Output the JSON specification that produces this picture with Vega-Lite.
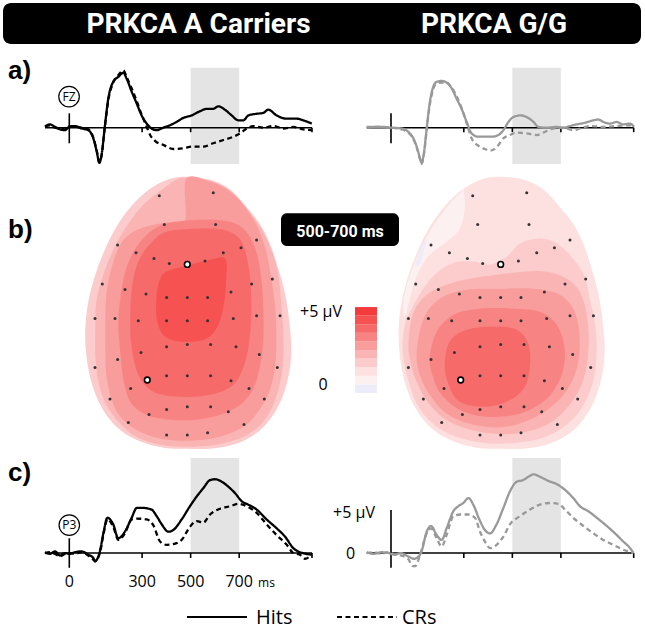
{
"$schema":"https://vega.github.io/schema/vega-lite/v6.json",
"padding":0,"spacing":0,"bounds":"full","background":"white",
"config":{"view":{"stroke":null},"font":"Open Sans"},
"datasets":{
"notes":[{"note":"PRKCA A Carriers"},{"note":"PRKCA G/G"},{"note":"a)"},{"note":"b)"},{"note":"c)"},{"note":"FZ"},{"note":"P3"},{"note":"500-700 ms"},{"note":"+5 µV"},{"note":"0"},{"note":"ms"},{"note":"Hits"},{"note":"CRs"}],
"boxes":[{"r":"a","ms":500,"ms2":700,"uv":-4.43,"uv2":7.32},{"r":"c","ms":500,"ms2":700,"uv":0,"uv2":11.6}],
"ticks":[{"ms":0},{"ms":300},{"ms":500},{"ms":700}],
"guides":[
{"g":"A","r":"a","ms":-100,"ms2":1000,"uv":0,"uv2":0},{"g":"A","r":"a","ms":0,"ms2":0,"uv":-1.9,"uv2":1.75},{"g":"A","r":"a","ms":300,"ms2":300,"uv":0,"uv2":-0.55},{"g":"A","r":"a","ms":500,"ms2":500,"uv":0,"uv2":-0.55},{"g":"A","r":"a","ms":700,"ms2":700,"uv":0,"uv2":-0.55},{"g":"A","r":"a","ms":1000,"ms2":1000,"uv":0,"uv2":-0.55},
{"g":"G","r":"a","ms":-100,"ms2":1000,"uv":0,"uv2":0},{"g":"G","r":"a","ms":0,"ms2":0,"uv":-1.9,"uv2":1.75},{"g":"G","r":"a","ms":300,"ms2":300,"uv":0,"uv2":-0.55},{"g":"G","r":"a","ms":500,"ms2":500,"uv":0,"uv2":-0.55},{"g":"G","r":"a","ms":700,"ms2":700,"uv":0,"uv2":-0.55},{"g":"G","r":"a","ms":1000,"ms2":1000,"uv":0,"uv2":-0.55},
{"g":"A","r":"c","ms":-100,"ms2":1000,"uv":0,"uv2":0},{"g":"A","r":"c","ms":0,"ms2":0,"uv":-1.8,"uv2":1.8},{"g":"A","r":"c","ms":300,"ms2":300,"uv":0,"uv2":-0.6},{"g":"A","r":"c","ms":500,"ms2":500,"uv":0,"uv2":-0.6},{"g":"A","r":"c","ms":700,"ms2":700,"uv":0,"uv2":-0.6},{"g":"A","r":"c","ms":1000,"ms2":1000,"uv":0,"uv2":-0.6},
{"g":"G","r":"c","ms":-100,"ms2":1000,"uv":0,"uv2":0},{"g":"G","r":"c","ms":0,"ms2":0,"uv":-1.8,"uv2":5.25},{"g":"G","r":"c","ms":300,"ms2":300,"uv":0,"uv2":-0.6},{"g":"G","r":"c","ms":500,"ms2":500,"uv":0,"uv2":-0.6},{"g":"G","r":"c","ms":700,"ms2":700,"uv":0,"uv2":-0.6},{"g":"G","r":"c","ms":1000,"ms2":1000,"uv":0,"uv2":-0.6}
],
"swatches":[{"level":1,"lo":0,"hi":0.5},{"level":2,"lo":0.5,"hi":1},{"level":3,"lo":1,"hi":1.5},{"level":4,"lo":1.5,"hi":2},{"level":5,"lo":2,"hi":2.5},{"level":6,"lo":2.5,"hi":3},{"level":7,"lo":3,"hi":3.5},{"level":8,"lo":3.5,"hi":4},{"level":9,"lo":4,"hi":4.5},{"level":10,"lo":4.5,"hi":5}],
"electrodes":[
{"u":-28,"v":125,"ref":false},{"u":26,"v":128,"ref":false},{"u":-23,"v":96.3,"ref":false},{"u":28.3,"v":96.3,"ref":false},
{"u":-69.7,"v":75.7,"ref":false},{"u":-51.3,"v":68,"ref":false},{"u":-33.3,"v":62.3,"ref":false},{"u":-18,"v":57.3,"ref":false},{"u":0,"v":56.3,"ref":true},{"u":17.7,"v":59.7,"ref":false},{"u":36,"v":68,"ref":false},{"u":53.7,"v":73,"ref":false},{"u":69.3,"v":80.7,"ref":false},
{"u":-85,"v":36.7,"ref":false},{"u":-62.3,"v":31.3,"ref":false},{"u":-41.3,"v":26.7,"ref":false},{"u":-20.7,"v":23.3,"ref":false},{"u":0,"v":23.3,"ref":false},{"u":20.3,"v":23.3,"ref":false},{"u":43.7,"v":28.7,"ref":false},{"u":64.3,"v":36.7,"ref":false},{"u":85,"v":41.7,"ref":false},
{"u":-92.3,"v":2.3,"ref":false},{"u":-72.3,"v":2.3,"ref":false},{"u":-49,"v":0,"ref":false},{"u":-20.7,"v":0,"ref":false},{"u":0,"v":0,"ref":false},{"u":20.3,"v":0,"ref":false},{"u":46,"v":2.3,"ref":false},{"u":69.3,"v":5,"ref":false},{"u":92.7,"v":5,"ref":false},
{"u":-46.3,"v":-31.7,"ref":false},{"u":-20.7,"v":-26,"ref":false},{"u":0,"v":-23.7,"ref":false},{"u":23.3,"v":-23.7,"ref":false},{"u":48.7,"v":-26,"ref":false},{"u":72,"v":-33.7,"ref":false},
{"u":-69.7,"v":-38.7,"ref":false},{"u":-92.3,"v":-46.7,"ref":false},{"u":-40,"v":-59.3,"ref":true},{"u":-20.7,"v":-55,"ref":false},{"u":0,"v":-55,"ref":false},{"u":23.3,"v":-55,"ref":false},{"u":43.7,"v":-60,"ref":false},{"u":90,"v":-46.7,"ref":false},
{"u":-56.7,"v":-67.7,"ref":false},{"u":-77.3,"v":-78.3,"ref":false},{"u":61.7,"v":-67.7,"ref":false},{"u":77,"v":-78.3,"ref":false},
{"u":-38.3,"v":-93.7,"ref":false},{"u":-20.7,"v":-88.7,"ref":false},{"u":0,"v":-86,"ref":false},{"u":23.3,"v":-86,"ref":false},{"u":41,"v":-91,"ref":false},{"u":-59,"v":-101.7,"ref":false},{"u":56.7,"v":-103.7,"ref":false},
{"u":-20.7,"v":-114.3,"ref":false},{"u":0,"v":-114.3,"ref":false},{"u":20.3,"v":-112,"ref":false}
],
"topo":[
{"map":"L","poly":"LO","level":4,"i":0,"u":0,"v":144},{"map":"L","poly":"LO","level":4,"i":1,"u":23,"v":141},{"map":"L","poly":"LO","level":4,"i":2,"u":43,"v":131},{"map":"L","poly":"LO","level":4,"i":3,"u":59,"v":114},{"map":"L","poly":"LO","level":4,"i":4,"u":73,"v":96},{"map":"L","poly":"LO","level":4,"i":5,"u":83,"v":76},{"map":"L","poly":"LO","level":4,"i":6,"u":91,"v":52},{"map":"L","poly":"LO","level":4,"i":7,"u":98,"v":26},{"map":"L","poly":"LO","level":4,"i":8,"u":102,"v":-1},{"map":"L","poly":"LO","level":4,"i":9,"u":104,"v":-28},{"map":"L","poly":"LO","level":4,"i":10,"u":102,"v":-51},{"map":"L","poly":"LO","level":4,"i":11,"u":96,"v":-74},{"map":"L","poly":"LO","level":4,"i":12,"u":86,"v":-94},{"map":"L","poly":"LO","level":4,"i":13,"u":71,"v":-111},{"map":"L","poly":"LO","level":4,"i":14,"u":49,"v":-123},{"map":"L","poly":"LO","level":4,"i":15,"u":23,"v":-128},{"map":"L","poly":"LO","level":4,"i":16,"u":0,"v":-128},{"map":"L","poly":"LO","level":4,"i":17,"u":-24,"v":-127},{"map":"L","poly":"LO","level":4,"i":18,"u":-51,"v":-119},{"map":"L","poly":"LO","level":4,"i":19,"u":-71,"v":-106},{"map":"L","poly":"LO","level":4,"i":20,"u":-86,"v":-86},{"map":"L","poly":"LO","level":4,"i":21,"u":-96,"v":-61},{"map":"L","poly":"LO","level":4,"i":22,"u":-101,"v":-34},{"map":"L","poly":"LO","level":4,"i":23,"u":-102,"v":-8},{"map":"L","poly":"LO","level":4,"i":24,"u":-99,"v":19},{"map":"L","poly":"LO","level":4,"i":25,"u":-92,"v":46},{"map":"L","poly":"LO","level":4,"i":26,"u":-82,"v":72},{"map":"L","poly":"LO","level":4,"i":27,"u":-69,"v":97},{"map":"L","poly":"LO","level":4,"i":28,"u":-52,"v":119},{"map":"L","poly":"LO","level":4,"i":29,"u":-34,"v":134},{"map":"L","poly":"LO","level":4,"i":30,"u":-17,"v":142},
{"map":"L","poly":"L5","level":5,"i":0,"u":-1,"v":143},{"map":"L","poly":"L5","level":5,"i":1,"u":23,"v":140},{"map":"L","poly":"L5","level":5,"i":2,"u":43,"v":130},{"map":"L","poly":"L5","level":5,"i":3,"u":59,"v":113},{"map":"L","poly":"L5","level":5,"i":4,"u":74,"v":92},{"map":"L","poly":"L5","level":5,"i":5,"u":84,"v":71},{"map":"L","poly":"L5","level":5,"i":6,"u":91,"v":46},{"map":"L","poly":"L5","level":5,"i":7,"u":94,"v":16},{"map":"L","poly":"L5","level":5,"i":8,"u":96,"v":-11},{"map":"L","poly":"L5","level":5,"i":9,"u":96,"v":-38},{"map":"L","poly":"L5","level":5,"i":10,"u":93,"v":-61},{"map":"L","poly":"L5","level":5,"i":11,"u":86,"v":-84},{"map":"L","poly":"L5","level":5,"i":12,"u":74,"v":-103},{"map":"L","poly":"L5","level":5,"i":13,"u":56,"v":-116},{"map":"L","poly":"L5","level":5,"i":14,"u":29,"v":-124},{"map":"L","poly":"L5","level":5,"i":15,"u":-1,"v":-126},{"map":"L","poly":"L5","level":5,"i":16,"u":-27,"v":-124},{"map":"L","poly":"L5","level":5,"i":17,"u":-51,"v":-116},{"map":"L","poly":"L5","level":5,"i":18,"u":-67,"v":-103},{"map":"L","poly":"L5","level":5,"i":19,"u":-81,"v":-84},{"map":"L","poly":"L5","level":5,"i":20,"u":-89,"v":-61},{"map":"L","poly":"L5","level":5,"i":21,"u":-92,"v":-34},{"map":"L","poly":"L5","level":5,"i":22,"u":-92,"v":-8},{"map":"L","poly":"L5","level":5,"i":23,"u":-91,"v":19},{"map":"L","poly":"L5","level":5,"i":24,"u":-84,"v":46},{"map":"L","poly":"L5","level":5,"i":25,"u":-74,"v":71},{"map":"L","poly":"L5","level":5,"i":26,"u":-61,"v":94},{"map":"L","poly":"L5","level":5,"i":27,"u":-44,"v":116},{"map":"L","poly":"L5","level":5,"i":28,"u":-24,"v":132},{"map":"L","poly":"L5","level":5,"i":29,"u":-11,"v":141},
{"map":"L","poly":"L6","level":6,"i":0,"u":-1,"v":142},{"map":"L","poly":"L6","level":6,"i":1,"u":23,"v":139},{"map":"L","poly":"L6","level":6,"i":2,"u":43,"v":129},{"map":"L","poly":"L6","level":6,"i":3,"u":59,"v":112},{"map":"L","poly":"L6","level":6,"i":4,"u":71,"v":92},{"map":"L","poly":"L6","level":6,"i":5,"u":79,"v":69},{"map":"L","poly":"L6","level":6,"i":6,"u":84,"v":42},{"map":"L","poly":"L6","level":6,"i":7,"u":88,"v":12},{"map":"L","poly":"L6","level":6,"i":8,"u":89,"v":-18},{"map":"L","poly":"L6","level":6,"i":9,"u":88,"v":-44},{"map":"L","poly":"L6","level":6,"i":10,"u":83,"v":-68},{"map":"L","poly":"L6","level":6,"i":11,"u":73,"v":-88},{"map":"L","poly":"L6","level":6,"i":12,"u":59,"v":-104},{"map":"L","poly":"L6","level":6,"i":13,"u":39,"v":-114},{"map":"L","poly":"L6","level":6,"i":14,"u":16,"v":-119},{"map":"L","poly":"L6","level":6,"i":15,"u":-7,"v":-120},{"map":"L","poly":"L6","level":6,"i":16,"u":-31,"v":-117},{"map":"L","poly":"L6","level":6,"i":17,"u":-51,"v":-109},{"map":"L","poly":"L6","level":6,"i":18,"u":-67,"v":-96},{"map":"L","poly":"L6","level":6,"i":19,"u":-76,"v":-78},{"map":"L","poly":"L6","level":6,"i":20,"u":-81,"v":-54},{"map":"L","poly":"L6","level":6,"i":21,"u":-82,"v":-28},{"map":"L","poly":"L6","level":6,"i":22,"u":-82,"v":-1},{"map":"L","poly":"L6","level":6,"i":23,"u":-81,"v":26},{"map":"L","poly":"L6","level":6,"i":24,"u":-76,"v":52},{"map":"L","poly":"L6","level":6,"i":25,"u":-67,"v":76},{"map":"L","poly":"L6","level":6,"i":26,"u":-54,"v":89},{"map":"L","poly":"L6","level":6,"i":27,"u":-34,"v":96},{"map":"L","poly":"L6","level":6,"i":28,"u":-14,"v":99},{"map":"L","poly":"L6","level":6,"i":29,"u":-2,"v":101},
{"map":"L","poly":"L7","level":7,"i":0,"u":-17,"v":98},{"map":"L","poly":"L7","level":7,"i":1,"u":16,"v":101},{"map":"L","poly":"L7","level":7,"i":2,"u":43,"v":99},{"map":"L","poly":"L7","level":7,"i":3,"u":59,"v":89},{"map":"L","poly":"L7","level":7,"i":4,"u":69,"v":69},{"map":"L","poly":"L7","level":7,"i":5,"u":74,"v":42},{"map":"L","poly":"L7","level":7,"i":6,"u":76,"v":12},{"map":"L","poly":"L7","level":7,"i":7,"u":76,"v":-18},{"map":"L","poly":"L7","level":7,"i":8,"u":73,"v":-44},{"map":"L","poly":"L7","level":7,"i":9,"u":66,"v":-68},{"map":"L","poly":"L7","level":7,"i":10,"u":53,"v":-84},{"map":"L","poly":"L7","level":7,"i":11,"u":33,"v":-94},{"map":"L","poly":"L7","level":7,"i":12,"u":9,"v":-99},{"map":"L","poly":"L7","level":7,"i":13,"u":-17,"v":-99},{"map":"L","poly":"L7","level":7,"i":14,"u":-41,"v":-94},{"map":"L","poly":"L7","level":7,"i":15,"u":-57,"v":-81},{"map":"L","poly":"L7","level":7,"i":16,"u":-64,"v":-58},{"map":"L","poly":"L7","level":7,"i":17,"u":-67,"v":-31},{"map":"L","poly":"L7","level":7,"i":18,"u":-69,"v":-4},{"map":"L","poly":"L7","level":7,"i":19,"u":-67,"v":22},{"map":"L","poly":"L7","level":7,"i":20,"u":-62,"v":49},{"map":"L","poly":"L7","level":7,"i":21,"u":-52,"v":72},{"map":"L","poly":"L7","level":7,"i":22,"u":-37,"v":89},
{"map":"L","poly":"L8","level":8,"i":0,"u":-21,"v":89},{"map":"L","poly":"L8","level":8,"i":1,"u":9,"v":92},{"map":"L","poly":"L8","level":8,"i":2,"u":36,"v":91},{"map":"L","poly":"L8","level":8,"i":3,"u":53,"v":81},{"map":"L","poly":"L8","level":8,"i":4,"u":61,"v":56},{"map":"L","poly":"L8","level":8,"i":5,"u":64,"v":22},{"map":"L","poly":"L8","level":8,"i":6,"u":63,"v":-11},{"map":"L","poly":"L8","level":8,"i":7,"u":58,"v":-41},{"map":"L","poly":"L8","level":8,"i":8,"u":46,"v":-64},{"map":"L","poly":"L8","level":8,"i":9,"u":23,"v":-74},{"map":"L","poly":"L8","level":8,"i":10,"u":-7,"v":-76},{"map":"L","poly":"L8","level":8,"i":11,"u":-34,"v":-71},{"map":"L","poly":"L8","level":8,"i":12,"u":-49,"v":-54},{"map":"L","poly":"L8","level":8,"i":13,"u":-56,"v":-24},{"map":"L","poly":"L8","level":8,"i":14,"u":-57,"v":6},{"map":"L","poly":"L8","level":8,"i":15,"u":-55,"v":36},{"map":"L","poly":"L8","level":8,"i":16,"u":-49,"v":59},{"map":"L","poly":"L8","level":8,"i":17,"u":-37,"v":77},
{"map":"L","poly":"L9","level":9,"i":0,"u":-21,"v":49},{"map":"L","poly":"L9","level":9,"i":1,"u":3,"v":56},{"map":"L","poly":"L9","level":9,"i":2,"u":23,"v":61},{"map":"L","poly":"L9","level":9,"i":3,"u":38,"v":62},{"map":"L","poly":"L9","level":9,"i":4,"u":39,"v":42},{"map":"L","poly":"L9","level":9,"i":5,"u":37,"v":19},{"map":"L","poly":"L9","level":9,"i":6,"u":31,"v":-4},{"map":"L","poly":"L9","level":9,"i":7,"u":19,"v":-18},{"map":"L","poly":"L9","level":9,"i":8,"u":-4,"v":-21},{"map":"L","poly":"L9","level":9,"i":9,"u":-22,"v":-16},{"map":"L","poly":"L9","level":9,"i":10,"u":-30,"v":-1},{"map":"L","poly":"L9","level":9,"i":11,"u":-31,"v":22},{"map":"L","poly":"L9","level":9,"i":12,"u":-28,"v":39},
{"map":"R","poly":"RO","level":3,"i":0,"u":0,"v":144},{"map":"R","poly":"RO","level":3,"i":1,"u":23,"v":141},{"map":"R","poly":"RO","level":3,"i":2,"u":43,"v":131},{"map":"R","poly":"RO","level":3,"i":3,"u":59,"v":114},{"map":"R","poly":"RO","level":3,"i":4,"u":73,"v":96},{"map":"R","poly":"RO","level":3,"i":5,"u":83,"v":76},{"map":"R","poly":"RO","level":3,"i":6,"u":91,"v":52},{"map":"R","poly":"RO","level":3,"i":7,"u":98,"v":26},{"map":"R","poly":"RO","level":3,"i":8,"u":102,"v":-1},{"map":"R","poly":"RO","level":3,"i":9,"u":104,"v":-28},{"map":"R","poly":"RO","level":3,"i":10,"u":102,"v":-51},{"map":"R","poly":"RO","level":3,"i":11,"u":96,"v":-74},{"map":"R","poly":"RO","level":3,"i":12,"u":86,"v":-94},{"map":"R","poly":"RO","level":3,"i":13,"u":71,"v":-111},{"map":"R","poly":"RO","level":3,"i":14,"u":49,"v":-123},{"map":"R","poly":"RO","level":3,"i":15,"u":23,"v":-128},{"map":"R","poly":"RO","level":3,"i":16,"u":0,"v":-128},{"map":"R","poly":"RO","level":3,"i":17,"u":-24,"v":-127},{"map":"R","poly":"RO","level":3,"i":18,"u":-51,"v":-119},{"map":"R","poly":"RO","level":3,"i":19,"u":-71,"v":-106},{"map":"R","poly":"RO","level":3,"i":20,"u":-86,"v":-86},{"map":"R","poly":"RO","level":3,"i":21,"u":-96,"v":-61},{"map":"R","poly":"RO","level":3,"i":22,"u":-101,"v":-34},{"map":"R","poly":"RO","level":3,"i":23,"u":-102,"v":-8},{"map":"R","poly":"RO","level":3,"i":24,"u":-99,"v":19},{"map":"R","poly":"RO","level":3,"i":25,"u":-92,"v":46},{"map":"R","poly":"RO","level":3,"i":26,"u":-82,"v":72},{"map":"R","poly":"RO","level":3,"i":27,"u":-69,"v":97},{"map":"R","poly":"RO","level":3,"i":28,"u":-52,"v":119},{"map":"R","poly":"RO","level":3,"i":29,"u":-34,"v":134},{"map":"R","poly":"RO","level":3,"i":30,"u":-17,"v":142},
{"map":"R","poly":"R2","level":2,"i":0,"u":-37,"v":131},{"map":"R","poly":"R2","level":2,"i":1,"u":-36,"v":112},{"map":"R","poly":"R2","level":2,"i":2,"u":-41,"v":92},{"map":"R","poly":"R2","level":2,"i":3,"u":-54,"v":79},{"map":"R","poly":"R2","level":2,"i":4,"u":-71,"v":66},{"map":"R","poly":"R2","level":2,"i":5,"u":-82,"v":49},{"map":"R","poly":"R2","level":2,"i":6,"u":-89,"v":29},{"map":"R","poly":"R2","level":2,"i":7,"u":-94,"v":9},{"map":"R","poly":"R2","level":2,"i":8,"u":-97,"v":5},{"map":"R","poly":"R2","level":2,"i":9,"u":-97,"v":22},{"map":"R","poly":"R2","level":2,"i":10,"u":-91,"v":45},{"map":"R","poly":"R2","level":2,"i":11,"u":-81,"v":70},{"map":"R","poly":"R2","level":2,"i":12,"u":-68,"v":94},{"map":"R","poly":"R2","level":2,"i":13,"u":-52,"v":116},{"map":"R","poly":"R2","level":2,"i":14,"u":-39,"v":129},
{"map":"R","poly":"R1","level":1,"i":0,"u":-74,"v":81},{"map":"R","poly":"R1","level":1,"i":1,"u":-77,"v":69},{"map":"R","poly":"R1","level":1,"i":2,"u":-81,"v":56},{"map":"R","poly":"R1","level":1,"i":3,"u":-85,"v":56},{"map":"R","poly":"R1","level":1,"i":4,"u":-82,"v":67},{"map":"R","poly":"R1","level":1,"i":5,"u":-78,"v":77},
{"map":"R","poly":"R4","level":4,"i":0,"u":-96,"v":-5},{"map":"R","poly":"R4","level":4,"i":1,"u":-90,"v":10},{"map":"R","poly":"R4","level":4,"i":2,"u":-80,"v":28},{"map":"R","poly":"R4","level":4,"i":3,"u":-67,"v":45},{"map":"R","poly":"R4","level":4,"i":4,"u":-47,"v":58},{"map":"R","poly":"R4","level":4,"i":5,"u":-27,"v":59},{"map":"R","poly":"R4","level":4,"i":6,"u":-11,"v":56},{"map":"R","poly":"R4","level":4,"i":7,"u":6,"v":64},{"map":"R","poly":"R4","level":4,"i":8,"u":19,"v":77},{"map":"R","poly":"R4","level":4,"i":9,"u":36,"v":82},{"map":"R","poly":"R4","level":4,"i":10,"u":53,"v":79},{"map":"R","poly":"R4","level":4,"i":11,"u":69,"v":66},{"map":"R","poly":"R4","level":4,"i":12,"u":83,"v":46},{"map":"R","poly":"R4","level":4,"i":13,"u":89,"v":22},{"map":"R","poly":"R4","level":4,"i":14,"u":94,"v":-1},{"map":"R","poly":"R4","level":4,"i":15,"u":96,"v":-28},{"map":"R","poly":"R4","level":4,"i":16,"u":93,"v":-58},{"map":"R","poly":"R4","level":4,"i":17,"u":83,"v":-84},{"map":"R","poly":"R4","level":4,"i":18,"u":66,"v":-104},{"map":"R","poly":"R4","level":4,"i":19,"u":39,"v":-118},{"map":"R","poly":"R4","level":4,"i":20,"u":-1,"v":-123},{"map":"R","poly":"R4","level":4,"i":21,"u":-34,"v":-119},{"map":"R","poly":"R4","level":4,"i":22,"u":-61,"v":-108},{"map":"R","poly":"R4","level":4,"i":23,"u":-81,"v":-88},{"map":"R","poly":"R4","level":4,"i":24,"u":-92,"v":-61},{"map":"R","poly":"R4","level":4,"i":25,"u":-98,"v":-31},
{"map":"R","poly":"R5","level":5,"i":0,"u":-92,"v":-18},{"map":"R","poly":"R5","level":5,"i":1,"u":-87,"v":9},{"map":"R","poly":"R5","level":5,"i":2,"u":-74,"v":26},{"map":"R","poly":"R5","level":5,"i":3,"u":-54,"v":36},{"map":"R","poly":"R5","level":5,"i":4,"u":-31,"v":42},{"map":"R","poly":"R5","level":5,"i":5,"u":-4,"v":46},{"map":"R","poly":"R5","level":5,"i":6,"u":23,"v":49},{"map":"R","poly":"R5","level":5,"i":7,"u":46,"v":49},{"map":"R","poly":"R5","level":5,"i":8,"u":66,"v":42},{"map":"R","poly":"R5","level":5,"i":9,"u":79,"v":29},{"map":"R","poly":"R5","level":5,"i":10,"u":86,"v":6},{"map":"R","poly":"R5","level":5,"i":11,"u":88,"v":-24},{"map":"R","poly":"R5","level":5,"i":12,"u":83,"v":-58},{"map":"R","poly":"R5","level":5,"i":13,"u":69,"v":-84},{"map":"R","poly":"R5","level":5,"i":14,"u":46,"v":-104},{"map":"R","poly":"R5","level":5,"i":15,"u":13,"v":-113},{"map":"R","poly":"R5","level":5,"i":16,"u":-21,"v":-111},{"map":"R","poly":"R5","level":5,"i":17,"u":-51,"v":-101},{"map":"R","poly":"R5","level":5,"i":18,"u":-71,"v":-84},{"map":"R","poly":"R5","level":5,"i":19,"u":-84,"v":-61},{"map":"R","poly":"R5","level":5,"i":20,"u":-91,"v":-38},
{"map":"R","poly":"R6","level":6,"i":0,"u":-84,"v":-31},{"map":"R","poly":"R6","level":6,"i":1,"u":-77,"v":2},{"map":"R","poly":"R6","level":6,"i":2,"u":-61,"v":22},{"map":"R","poly":"R6","level":6,"i":3,"u":-34,"v":31},{"map":"R","poly":"R6","level":6,"i":4,"u":-1,"v":32},{"map":"R","poly":"R6","level":6,"i":5,"u":33,"v":32},{"map":"R","poly":"R6","level":6,"i":6,"u":59,"v":26},{"map":"R","poly":"R6","level":6,"i":7,"u":74,"v":9},{"map":"R","poly":"R6","level":6,"i":8,"u":79,"v":-18},{"map":"R","poly":"R6","level":6,"i":9,"u":76,"v":-48},{"map":"R","poly":"R6","level":6,"i":10,"u":63,"v":-74},{"map":"R","poly":"R6","level":6,"i":11,"u":39,"v":-94},{"map":"R","poly":"R6","level":6,"i":12,"u":6,"v":-106},{"map":"R","poly":"R6","level":6,"i":13,"u":-27,"v":-104},{"map":"R","poly":"R6","level":6,"i":14,"u":-54,"v":-93},{"map":"R","poly":"R6","level":6,"i":15,"u":-71,"v":-74},{"map":"R","poly":"R6","level":6,"i":16,"u":-81,"v":-54},
{"map":"R","poly":"R7","level":7,"i":0,"u":-71,"v":-38},{"map":"R","poly":"R7","level":7,"i":1,"u":-64,"v":-11},{"map":"R","poly":"R7","level":7,"i":2,"u":-47,"v":6},{"map":"R","poly":"R7","level":7,"i":3,"u":-21,"v":12},{"map":"R","poly":"R7","level":7,"i":4,"u":13,"v":12},{"map":"R","poly":"R7","level":7,"i":5,"u":39,"v":9},{"map":"R","poly":"R7","level":7,"i":6,"u":56,"v":-4},{"map":"R","poly":"R7","level":7,"i":7,"u":64,"v":-28},{"map":"R","poly":"R7","level":7,"i":8,"u":61,"v":-54},{"map":"R","poly":"R7","level":7,"i":9,"u":46,"v":-78},{"map":"R","poly":"R7","level":7,"i":10,"u":19,"v":-93},{"map":"R","poly":"R7","level":7,"i":11,"u":-14,"v":-96},{"map":"R","poly":"R7","level":7,"i":12,"u":-41,"v":-89},{"map":"R","poly":"R7","level":7,"i":13,"u":-59,"v":-74},{"map":"R","poly":"R7","level":7,"i":14,"u":-67,"v":-58},
{"map":"R","poly":"R8","level":8,"i":0,"u":-56,"v":-44},{"map":"R","poly":"R8","level":8,"i":1,"u":-51,"v":-21},{"map":"R","poly":"R8","level":8,"i":2,"u":-34,"v":-9},{"map":"R","poly":"R8","level":8,"i":3,"u":-7,"v":-6},{"map":"R","poly":"R8","level":8,"i":4,"u":16,"v":-9},{"map":"R","poly":"R8","level":8,"i":5,"u":28,"v":-24},{"map":"R","poly":"R8","level":8,"i":6,"u":29,"v":-48},{"map":"R","poly":"R8","level":8,"i":7,"u":23,"v":-68},{"map":"R","poly":"R8","level":8,"i":8,"u":6,"v":-81},{"map":"R","poly":"R8","level":8,"i":9,"u":-17,"v":-86},{"map":"R","poly":"R8","level":8,"i":10,"u":-41,"v":-81},{"map":"R","poly":"R8","level":8,"i":11,"u":-52,"v":-64}
],
"waves":[
{"g":"A","r":"a","c":"Hits","ms":-100,"uv":0.1},{"g":"A","r":"a","c":"Hits","ms":-80,"uv":0.4},{"g":"A","r":"a","c":"Hits","ms":-59,"uv":0.1},{"g":"A","r":"a","c":"Hits","ms":-38,"uv":-0.2},{"g":"A","r":"a","c":"Hits","ms":-18,"uv":-0.3},{"g":"A","r":"a","c":"Hits","ms":0,"uv":0.1},{"g":"A","r":"a","c":"Hits","ms":23,"uv":0.2},{"g":"A","r":"a","c":"Hits","ms":51,"uv":-0.1},{"g":"A","r":"a","c":"Hits","ms":78,"uv":-0.3},{"g":"A","r":"a","c":"Hits","ms":99,"uv":-1.3},{"g":"A","r":"a","c":"Hits","ms":113,"uv":-2.9},{"g":"A","r":"a","c":"Hits","ms":124,"uv":-4.3},{"g":"A","r":"a","c":"Hits","ms":133,"uv":-3.3},{"g":"A","r":"a","c":"Hits","ms":147,"uv":0.3},{"g":"A","r":"a","c":"Hits","ms":161,"uv":3.6},{"g":"A","r":"a","c":"Hits","ms":181,"uv":5.6},{"g":"A","r":"a","c":"Hits","ms":202,"uv":6.2},{"g":"A","r":"a","c":"Hits","ms":223,"uv":6.7},{"g":"A","r":"a","c":"Hits","ms":236,"uv":6.0},{"g":"A","r":"a","c":"Hits","ms":257,"uv":4.4},{"g":"A","r":"a","c":"Hits","ms":277,"uv":3.0},{"g":"A","r":"a","c":"Hits","ms":298,"uv":1.5},{"g":"A","r":"a","c":"Hits","ms":319,"uv":0.5},{"g":"A","r":"a","c":"Hits","ms":339,"uv":-0.1},{"g":"A","r":"a","c":"Hits","ms":360,"uv":-0.3},{"g":"A","r":"a","c":"Hits","ms":387,"uv":0},{"g":"A","r":"a","c":"Hits","ms":415,"uv":0.3},{"g":"A","r":"a","c":"Hits","ms":442,"uv":0.7},{"g":"A","r":"a","c":"Hits","ms":470,"uv":1.2},{"g":"A","r":"a","c":"Hits","ms":504,"uv":1.5},{"g":"A","r":"a","c":"Hits","ms":538,"uv":2.0},{"g":"A","r":"a","c":"Hits","ms":566,"uv":2.3},{"g":"A","r":"a","c":"Hits","ms":593,"uv":2.3},{"g":"A","r":"a","c":"Hits","ms":614,"uv":2.6},{"g":"A","r":"a","c":"Hits","ms":641,"uv":2.2},{"g":"A","r":"a","c":"Hits","ms":669,"uv":1.5},{"g":"A","r":"a","c":"Hits","ms":696,"uv":0.9},{"g":"A","r":"a","c":"Hits","ms":717,"uv":0.9},{"g":"A","r":"a","c":"Hits","ms":738,"uv":1.5},{"g":"A","r":"a","c":"Hits","ms":772,"uv":1.7},{"g":"A","r":"a","c":"Hits","ms":799,"uv":1.8},{"g":"A","r":"a","c":"Hits","ms":820,"uv":2.2},{"g":"A","r":"a","c":"Hits","ms":854,"uv":1.5},{"g":"A","r":"a","c":"Hits","ms":896,"uv":1.1},{"g":"A","r":"a","c":"Hits","ms":937,"uv":1.1},{"g":"A","r":"a","c":"Hits","ms":964,"uv":0.9},{"g":"A","r":"a","c":"Hits","ms":999,"uv":0.5},
{"g":"A","r":"a","c":"CRs","ms":-100,"uv":0.2},{"g":"A","r":"a","c":"CRs","ms":-80,"uv":0.3},{"g":"A","r":"a","c":"CRs","ms":-59,"uv":0},{"g":"A","r":"a","c":"CRs","ms":-38,"uv":-0.1},{"g":"A","r":"a","c":"CRs","ms":-18,"uv":-0.2},{"g":"A","r":"a","c":"CRs","ms":0,"uv":0.2},{"g":"A","r":"a","c":"CRs","ms":23,"uv":0.1},{"g":"A","r":"a","c":"CRs","ms":51,"uv":0},{"g":"A","r":"a","c":"CRs","ms":78,"uv":-0.2},{"g":"A","r":"a","c":"CRs","ms":99,"uv":-1.2},{"g":"A","r":"a","c":"CRs","ms":113,"uv":-2.8},{"g":"A","r":"a","c":"CRs","ms":124,"uv":-4.2},{"g":"A","r":"a","c":"CRs","ms":133,"uv":-3.4},{"g":"A","r":"a","c":"CRs","ms":147,"uv":0.2},{"g":"A","r":"a","c":"CRs","ms":161,"uv":3.4},{"g":"A","r":"a","c":"CRs","ms":181,"uv":5.5},{"g":"A","r":"a","c":"CRs","ms":202,"uv":6.4},{"g":"A","r":"a","c":"CRs","ms":223,"uv":7.0},{"g":"A","r":"a","c":"CRs","ms":236,"uv":6.2},{"g":"A","r":"a","c":"CRs","ms":257,"uv":4.8},{"g":"A","r":"a","c":"CRs","ms":277,"uv":3.3},{"g":"A","r":"a","c":"CRs","ms":298,"uv":1.6},{"g":"A","r":"a","c":"CRs","ms":319,"uv":0.1},{"g":"A","r":"a","c":"CRs","ms":333,"uv":-0.9},{"g":"A","r":"a","c":"CRs","ms":353,"uv":-1.6},{"g":"A","r":"a","c":"CRs","ms":387,"uv":-2.1},{"g":"A","r":"a","c":"CRs","ms":429,"uv":-2.6},{"g":"A","r":"a","c":"CRs","ms":470,"uv":-2.5},{"g":"A","r":"a","c":"CRs","ms":511,"uv":-2.3},{"g":"A","r":"a","c":"CRs","ms":552,"uv":-2.3},{"g":"A","r":"a","c":"CRs","ms":593,"uv":-1.9},{"g":"A","r":"a","c":"CRs","ms":635,"uv":-1.5},{"g":"A","r":"a","c":"CRs","ms":676,"uv":-1.1},{"g":"A","r":"a","c":"CRs","ms":703,"uv":-0.7},{"g":"A","r":"a","c":"CRs","ms":731,"uv":-0.1},{"g":"A","r":"a","c":"CRs","ms":758,"uv":0.2},{"g":"A","r":"a","c":"CRs","ms":799,"uv":0},{"g":"A","r":"a","c":"CRs","ms":841,"uv":0.2},{"g":"A","r":"a","c":"CRs","ms":882,"uv":-0.1},{"g":"A","r":"a","c":"CRs","ms":923,"uv":0.1},{"g":"A","r":"a","c":"CRs","ms":964,"uv":-0.2},{"g":"A","r":"a","c":"CRs","ms":999,"uv":-0.3},
{"g":"G","r":"a","c":"Hits","ms":-100,"uv":0.1},{"g":"G","r":"a","c":"Hits","ms":-45,"uv":0.1},{"g":"G","r":"a","c":"Hits","ms":0,"uv":0},{"g":"G","r":"a","c":"Hits","ms":44,"uv":-0.1},{"g":"G","r":"a","c":"Hits","ms":71,"uv":-0.5},{"g":"G","r":"a","c":"Hits","ms":92,"uv":-1.3},{"g":"G","r":"a","c":"Hits","ms":109,"uv":-2.6},{"g":"G","r":"a","c":"Hits","ms":120,"uv":-3.8},{"g":"G","r":"a","c":"Hits","ms":126,"uv":-4.3},{"g":"G","r":"a","c":"Hits","ms":136,"uv":-3.0},{"g":"G","r":"a","c":"Hits","ms":147,"uv":-0.1},{"g":"G","r":"a","c":"Hits","ms":158,"uv":2.7},{"g":"G","r":"a","c":"Hits","ms":172,"uv":4.8},{"g":"G","r":"a","c":"Hits","ms":188,"uv":5.6},{"g":"G","r":"a","c":"Hits","ms":209,"uv":5.7},{"g":"G","r":"a","c":"Hits","ms":229,"uv":5.5},{"g":"G","r":"a","c":"Hits","ms":250,"uv":4.8},{"g":"G","r":"a","c":"Hits","ms":271,"uv":3.5},{"g":"G","r":"a","c":"Hits","ms":291,"uv":2.3},{"g":"G","r":"a","c":"Hits","ms":312,"uv":0.7},{"g":"G","r":"a","c":"Hits","ms":332,"uv":-0.7},{"g":"G","r":"a","c":"Hits","ms":360,"uv":-1.1},{"g":"G","r":"a","c":"Hits","ms":387,"uv":-1.1},{"g":"G","r":"a","c":"Hits","ms":415,"uv":-1.1},{"g":"G","r":"a","c":"Hits","ms":442,"uv":-0.9},{"g":"G","r":"a","c":"Hits","ms":463,"uv":-0.3},{"g":"G","r":"a","c":"Hits","ms":484,"uv":0.7},{"g":"G","r":"a","c":"Hits","ms":504,"uv":1.3},{"g":"G","r":"a","c":"Hits","ms":532,"uv":1.5},{"g":"G","r":"a","c":"Hits","ms":559,"uv":1.3},{"g":"G","r":"a","c":"Hits","ms":587,"uv":0.7},{"g":"G","r":"a","c":"Hits","ms":607,"uv":0.1},{"g":"G","r":"a","c":"Hits","ms":641,"uv":0},{"g":"G","r":"a","c":"Hits","ms":683,"uv":0.1},{"g":"G","r":"a","c":"Hits","ms":710,"uv":0},{"g":"G","r":"a","c":"Hits","ms":738,"uv":0.2},{"g":"G","r":"a","c":"Hits","ms":765,"uv":0.4},{"g":"G","r":"a","c":"Hits","ms":799,"uv":0.6},{"g":"G","r":"a","c":"Hits","ms":834,"uv":0.9},{"g":"G","r":"a","c":"Hits","ms":854,"uv":1.0},{"g":"G","r":"a","c":"Hits","ms":875,"uv":0.7},{"g":"G","r":"a","c":"Hits","ms":902,"uv":0.5},{"g":"G","r":"a","c":"Hits","ms":930,"uv":0.7},{"g":"G","r":"a","c":"Hits","ms":957,"uv":0.4},{"g":"G","r":"a","c":"Hits","ms":985,"uv":0.5},{"g":"G","r":"a","c":"Hits","ms":1001,"uv":0.1},
{"g":"G","r":"a","c":"CRs","ms":-100,"uv":0},{"g":"G","r":"a","c":"CRs","ms":-45,"uv":0.1},{"g":"G","r":"a","c":"CRs","ms":0,"uv":0},{"g":"G","r":"a","c":"CRs","ms":44,"uv":-0.2},{"g":"G","r":"a","c":"CRs","ms":71,"uv":-0.6},{"g":"G","r":"a","c":"CRs","ms":92,"uv":-1.4},{"g":"G","r":"a","c":"CRs","ms":109,"uv":-2.7},{"g":"G","r":"a","c":"CRs","ms":120,"uv":-3.9},{"g":"G","r":"a","c":"CRs","ms":126,"uv":-4.4},{"g":"G","r":"a","c":"CRs","ms":136,"uv":-3.2},{"g":"G","r":"a","c":"CRs","ms":147,"uv":-0.3},{"g":"G","r":"a","c":"CRs","ms":158,"uv":2.4},{"g":"G","r":"a","c":"CRs","ms":172,"uv":4.5},{"g":"G","r":"a","c":"CRs","ms":188,"uv":5.4},{"g":"G","r":"a","c":"CRs","ms":209,"uv":5.5},{"g":"G","r":"a","c":"CRs","ms":229,"uv":5.5},{"g":"G","r":"a","c":"CRs","ms":250,"uv":4.9},{"g":"G","r":"a","c":"CRs","ms":271,"uv":3.8},{"g":"G","r":"a","c":"CRs","ms":291,"uv":2.4},{"g":"G","r":"a","c":"CRs","ms":312,"uv":0.5},{"g":"G","r":"a","c":"CRs","ms":332,"uv":-1.3},{"g":"G","r":"a","c":"CRs","ms":360,"uv":-2.2},{"g":"G","r":"a","c":"CRs","ms":387,"uv":-2.6},{"g":"G","r":"a","c":"CRs","ms":408,"uv":-2.8},{"g":"G","r":"a","c":"CRs","ms":435,"uv":-2.4},{"g":"G","r":"a","c":"CRs","ms":463,"uv":-1.3},{"g":"G","r":"a","c":"CRs","ms":490,"uv":-0.9},{"g":"G","r":"a","c":"CRs","ms":518,"uv":-0.6},{"g":"G","r":"a","c":"CRs","ms":559,"uv":-0.7},{"g":"G","r":"a","c":"CRs","ms":600,"uv":-0.9},{"g":"G","r":"a","c":"CRs","ms":635,"uv":-0.5},{"g":"G","r":"a","c":"CRs","ms":669,"uv":-0.1},{"g":"G","r":"a","c":"CRs","ms":710,"uv":0},{"g":"G","r":"a","c":"CRs","ms":751,"uv":-0.3},{"g":"G","r":"a","c":"CRs","ms":779,"uv":-0.1},{"g":"G","r":"a","c":"CRs","ms":820,"uv":0.2},{"g":"G","r":"a","c":"CRs","ms":875,"uv":0.1},{"g":"G","r":"a","c":"CRs","ms":930,"uv":0.2},{"g":"G","r":"a","c":"CRs","ms":985,"uv":0.3},{"g":"G","r":"a","c":"CRs","ms":1001,"uv":0.1},
{"g":"A","r":"c","c":"Hits","ms":-100,"uv":0.1},{"g":"A","r":"c","c":"Hits","ms":-80,"uv":-0.1},{"g":"A","r":"c","c":"Hits","ms":-59,"uv":0.2},{"g":"A","r":"c","c":"Hits","ms":-38,"uv":-0.3},{"g":"A","r":"c","c":"Hits","ms":-18,"uv":0},{"g":"A","r":"c","c":"Hits","ms":0,"uv":-0.1},{"g":"A","r":"c","c":"Hits","ms":23,"uv":0.1},{"g":"A","r":"c","c":"Hits","ms":51,"uv":0.2},{"g":"A","r":"c","c":"Hits","ms":78,"uv":-0.2},{"g":"A","r":"c","c":"Hits","ms":99,"uv":-0.6},{"g":"A","r":"c","c":"Hits","ms":106,"uv":-1.0},{"g":"A","r":"c","c":"Hits","ms":126,"uv":0.2},{"g":"A","r":"c","c":"Hits","ms":141,"uv":2.5},{"g":"A","r":"c","c":"Hits","ms":157,"uv":4.3},{"g":"A","r":"c","c":"Hits","ms":181,"uv":3.5},{"g":"A","r":"c","c":"Hits","ms":202,"uv":1.8},{"g":"A","r":"c","c":"Hits","ms":229,"uv":2.6},{"g":"A","r":"c","c":"Hits","ms":257,"uv":4.3},{"g":"A","r":"c","c":"Hits","ms":278,"uv":5.5},{"g":"A","r":"c","c":"Hits","ms":305,"uv":5.5},{"g":"A","r":"c","c":"Hits","ms":339,"uv":5.3},{"g":"A","r":"c","c":"Hits","ms":360,"uv":4.5},{"g":"A","r":"c","c":"Hits","ms":381,"uv":3.5},{"g":"A","r":"c","c":"Hits","ms":408,"uv":2.6},{"g":"A","r":"c","c":"Hits","ms":428,"uv":2.8},{"g":"A","r":"c","c":"Hits","ms":463,"uv":4.1},{"g":"A","r":"c","c":"Hits","ms":497,"uv":5.7},{"g":"A","r":"c","c":"Hits","ms":525,"uv":6.9},{"g":"A","r":"c","c":"Hits","ms":552,"uv":7.9},{"g":"A","r":"c","c":"Hits","ms":580,"uv":8.9},{"g":"A","r":"c","c":"Hits","ms":600,"uv":9.0},{"g":"A","r":"c","c":"Hits","ms":628,"uv":8.7},{"g":"A","r":"c","c":"Hits","ms":655,"uv":8.1},{"g":"A","r":"c","c":"Hits","ms":683,"uv":7.3},{"g":"A","r":"c","c":"Hits","ms":711,"uv":6.3},{"g":"A","r":"c","c":"Hits","ms":738,"uv":5.9},{"g":"A","r":"c","c":"Hits","ms":772,"uv":5.3},{"g":"A","r":"c","c":"Hits","ms":813,"uv":4.1},{"g":"A","r":"c","c":"Hits","ms":855,"uv":3.0},{"g":"A","r":"c","c":"Hits","ms":889,"uv":2.0},{"g":"A","r":"c","c":"Hits","ms":923,"uv":0.6},{"g":"A","r":"c","c":"Hits","ms":950,"uv":0.1},{"g":"A","r":"c","c":"Hits","ms":975,"uv":-0.1},{"g":"A","r":"c","c":"Hits","ms":998,"uv":-0.2},
{"g":"A","r":"c","c":"CRs","ms":-100,"uv":0},{"g":"A","r":"c","c":"CRs","ms":-80,"uv":0.1},{"g":"A","r":"c","c":"CRs","ms":-59,"uv":-0.1},{"g":"A","r":"c","c":"CRs","ms":-38,"uv":-0.4},{"g":"A","r":"c","c":"CRs","ms":-18,"uv":-0.1},{"g":"A","r":"c","c":"CRs","ms":0,"uv":0},{"g":"A","r":"c","c":"CRs","ms":23,"uv":-0.1},{"g":"A","r":"c","c":"CRs","ms":51,"uv":0.1},{"g":"A","r":"c","c":"CRs","ms":78,"uv":-0.3},{"g":"A","r":"c","c":"CRs","ms":99,"uv":-0.8},{"g":"A","r":"c","c":"CRs","ms":106,"uv":-1.0},{"g":"A","r":"c","c":"CRs","ms":126,"uv":0},{"g":"A","r":"c","c":"CRs","ms":141,"uv":2.3},{"g":"A","r":"c","c":"CRs","ms":157,"uv":4.1},{"g":"A","r":"c","c":"CRs","ms":181,"uv":3.2},{"g":"A","r":"c","c":"CRs","ms":202,"uv":1.6},{"g":"A","r":"c","c":"CRs","ms":229,"uv":2.4},{"g":"A","r":"c","c":"CRs","ms":257,"uv":4.1},{"g":"A","r":"c","c":"CRs","ms":278,"uv":4.2},{"g":"A","r":"c","c":"CRs","ms":319,"uv":4.1},{"g":"A","r":"c","c":"CRs","ms":346,"uv":3.4},{"g":"A","r":"c","c":"CRs","ms":374,"uv":1.4},{"g":"A","r":"c","c":"CRs","ms":401,"uv":1.0},{"g":"A","r":"c","c":"CRs","ms":429,"uv":1.1},{"g":"A","r":"c","c":"CRs","ms":463,"uv":1.6},{"g":"A","r":"c","c":"CRs","ms":497,"uv":3.2},{"g":"A","r":"c","c":"CRs","ms":525,"uv":3.9},{"g":"A","r":"c","c":"CRs","ms":552,"uv":3.7},{"g":"A","r":"c","c":"CRs","ms":580,"uv":4.7},{"g":"A","r":"c","c":"CRs","ms":621,"uv":5.4},{"g":"A","r":"c","c":"CRs","ms":662,"uv":5.7},{"g":"A","r":"c","c":"CRs","ms":696,"uv":6.0},{"g":"A","r":"c","c":"CRs","ms":738,"uv":5.6},{"g":"A","r":"c","c":"CRs","ms":772,"uv":4.9},{"g":"A","r":"c","c":"CRs","ms":813,"uv":3.5},{"g":"A","r":"c","c":"CRs","ms":854,"uv":2.2},{"g":"A","r":"c","c":"CRs","ms":896,"uv":1.0},{"g":"A","r":"c","c":"CRs","ms":923,"uv":0},{"g":"A","r":"c","c":"CRs","ms":950,"uv":-0.2},{"g":"A","r":"c","c":"CRs","ms":971,"uv":-0.7},{"g":"A","r":"c","c":"CRs","ms":999,"uv":-0.2},
{"g":"G","r":"c","c":"Hits","ms":-100,"uv":0.1},{"g":"G","r":"c","c":"Hits","ms":-70,"uv":-0.1},{"g":"G","r":"c","c":"Hits","ms":-40,"uv":0.1},{"g":"G","r":"c","c":"Hits","ms":-10,"uv":0},{"g":"G","r":"c","c":"Hits","ms":15,"uv":-0.2},{"g":"G","r":"c","c":"Hits","ms":40,"uv":0},{"g":"G","r":"c","c":"Hits","ms":70,"uv":-0.4},{"g":"G","r":"c","c":"Hits","ms":95,"uv":-0.7},{"g":"G","r":"c","c":"Hits","ms":106,"uv":-0.6},{"g":"G","r":"c","c":"Hits","ms":126,"uv":0.2},{"g":"G","r":"c","c":"Hits","ms":147,"uv":2.6},{"g":"G","r":"c","c":"Hits","ms":165,"uv":3.3},{"g":"G","r":"c","c":"Hits","ms":188,"uv":2.2},{"g":"G","r":"c","c":"Hits","ms":209,"uv":1.6},{"g":"G","r":"c","c":"Hits","ms":229,"uv":3.0},{"g":"G","r":"c","c":"Hits","ms":257,"uv":5.1},{"g":"G","r":"c","c":"Hits","ms":277,"uv":5.7},{"g":"G","r":"c","c":"Hits","ms":298,"uv":6.1},{"g":"G","r":"c","c":"Hits","ms":319,"uv":6.7},{"g":"G","r":"c","c":"Hits","ms":339,"uv":5.9},{"g":"G","r":"c","c":"Hits","ms":364,"uv":4.1},{"g":"G","r":"c","c":"Hits","ms":387,"uv":2.8},{"g":"G","r":"c","c":"Hits","ms":408,"uv":2.4},{"g":"G","r":"c","c":"Hits","ms":435,"uv":3.5},{"g":"G","r":"c","c":"Hits","ms":463,"uv":5.5},{"g":"G","r":"c","c":"Hits","ms":490,"uv":7.5},{"g":"G","r":"c","c":"Hits","ms":518,"uv":8.7},{"g":"G","r":"c","c":"Hits","ms":545,"uv":8.9},{"g":"G","r":"c","c":"Hits","ms":566,"uv":9.3},{"g":"G","r":"c","c":"Hits","ms":587,"uv":9.6},{"g":"G","r":"c","c":"Hits","ms":614,"uv":9.3},{"g":"G","r":"c","c":"Hits","ms":648,"uv":8.8},{"g":"G","r":"c","c":"Hits","ms":683,"uv":8.4},{"g":"G","r":"c","c":"Hits","ms":717,"uv":7.7},{"g":"G","r":"c","c":"Hits","ms":751,"uv":6.7},{"g":"G","r":"c","c":"Hits","ms":779,"uv":5.7},{"g":"G","r":"c","c":"Hits","ms":813,"uv":5.1},{"g":"G","r":"c","c":"Hits","ms":848,"uv":4.3},{"g":"G","r":"c","c":"Hits","ms":889,"uv":3.3},{"g":"G","r":"c","c":"Hits","ms":923,"uv":2.4},{"g":"G","r":"c","c":"Hits","ms":957,"uv":1.4},{"g":"G","r":"c","c":"Hits","ms":985,"uv":0.6},{"g":"G","r":"c","c":"Hits","ms":999,"uv":0},
{"g":"G","r":"c","c":"CRs","ms":-100,"uv":0},{"g":"G","r":"c","c":"CRs","ms":-70,"uv":0.1},{"g":"G","r":"c","c":"CRs","ms":-40,"uv":-0.1},{"g":"G","r":"c","c":"CRs","ms":-10,"uv":0.1},{"g":"G","r":"c","c":"CRs","ms":15,"uv":-0.2},{"g":"G","r":"c","c":"CRs","ms":40,"uv":-0.3},{"g":"G","r":"c","c":"CRs","ms":70,"uv":-0.7},{"g":"G","r":"c","c":"CRs","ms":90,"uv":-1.6},{"g":"G","r":"c","c":"CRs","ms":99,"uv":-1.6},{"g":"G","r":"c","c":"CRs","ms":120,"uv":-0.2},{"g":"G","r":"c","c":"CRs","ms":147,"uv":2.4},{"g":"G","r":"c","c":"CRs","ms":165,"uv":3.0},{"g":"G","r":"c","c":"CRs","ms":188,"uv":1.8},{"g":"G","r":"c","c":"CRs","ms":209,"uv":0.8},{"g":"G","r":"c","c":"CRs","ms":229,"uv":2.2},{"g":"G","r":"c","c":"CRs","ms":257,"uv":4.5},{"g":"G","r":"c","c":"CRs","ms":284,"uv":4.7},{"g":"G","r":"c","c":"CRs","ms":319,"uv":4.7},{"g":"G","r":"c","c":"CRs","ms":346,"uv":4.3},{"g":"G","r":"c","c":"CRs","ms":367,"uv":2.6},{"g":"G","r":"c","c":"CRs","ms":387,"uv":1.4},{"g":"G","r":"c","c":"CRs","ms":408,"uv":0.6},{"g":"G","r":"c","c":"CRs","ms":435,"uv":1.0},{"g":"G","r":"c","c":"CRs","ms":463,"uv":2.0},{"g":"G","r":"c","c":"CRs","ms":490,"uv":3.5},{"g":"G","r":"c","c":"CRs","ms":532,"uv":4.5},{"g":"G","r":"c","c":"CRs","ms":573,"uv":5.3},{"g":"G","r":"c","c":"CRs","ms":614,"uv":5.9},{"g":"G","r":"c","c":"CRs","ms":655,"uv":6.1},{"g":"G","r":"c","c":"CRs","ms":690,"uv":6.0},{"g":"G","r":"c","c":"CRs","ms":717,"uv":5.3},{"g":"G","r":"c","c":"CRs","ms":751,"uv":4.3},{"g":"G","r":"c","c":"CRs","ms":793,"uv":3.3},{"g":"G","r":"c","c":"CRs","ms":834,"uv":2.4},{"g":"G","r":"c","c":"CRs","ms":875,"uv":1.6},{"g":"G","r":"c","c":"CRs","ms":916,"uv":1.0},{"g":"G","r":"c","c":"CRs","ms":957,"uv":0.4},{"g":"G","r":"c","c":"CRs","ms":999,"uv":0}
]
},
"vconcat":[
{"width":645,"height":52,"data":{"name":"notes"},
 "layer":[
  {"transform":[{"filter":"datum.note=='PRKCA A Carriers'"}],"mark":{"type":"rect","fill":"black","cornerRadius":8},
   "encoding":{"x":{"datum":3,"type":"quantitative","scale":{"domain":[0,645],"nice":false,"zero":false},"axis":null},"x2":{"datum":641},"y":{"datum":3,"type":"quantitative","scale":{"domain":[0,52],"reverse":true,"nice":false,"zero":false},"axis":null},"y2":{"datum":44}}},
  {"transform":[{"filter":"datum.note=='PRKCA A Carriers'"}],"mark":{"type":"text","font":"Roboto","fontWeight":"bold","fontSize":28,"color":"white","align":"center","baseline":"alphabetic"},
   "encoding":{"x":{"datum":198.5,"type":"quantitative"},"y":{"datum":33.3,"type":"quantitative"},"text":{"field":"note"}}},
  {"transform":[{"filter":"datum.note=='PRKCA G/G'"}],"mark":{"type":"text","font":"Roboto","fontWeight":"bold","fontSize":28,"color":"white","align":"center","baseline":"alphabetic"},
   "encoding":{"x":{"datum":494,"type":"quantitative"},"y":{"datum":33.3,"type":"quantitative"},"text":{"field":"note"}}}
 ]},
{"hconcat":[
 {"width":322,"height":118,
  "layer":[
   {"data":{"name":"boxes"},"transform":[{"filter":"datum.r=='a'"}],"mark":{"type":"rect","fill":"#e4e4e4"},
    "encoding":{"x":{"field":"ms","type":"quantitative","scale":{"domain":[-285.5,1041.2],"nice":false,"zero":false},"axis":null},"x2":{"field":"ms2"},"y":{"field":"uv","type":"quantitative","scale":{"domain":[-5.16,9.23],"nice":false,"zero":false},"axis":null},"y2":{"field":"uv2"}}},
   {"data":{"name":"guides"},"transform":[{"filter":"datum.r=='a' && datum.g=='A'"}],"mark":{"type":"rule","color":"black","strokeWidth":1.6},
    "encoding":{"x":{"field":"ms","type":"quantitative"},"x2":{"field":"ms2"},"y":{"field":"uv","type":"quantitative"},"y2":{"field":"uv2"}}},
   {"data":{"name":"waves"},"transform":[{"filter":"datum.r=='a' && datum.g=='A'"}],"mark":{"type":"line","color":"black","strokeWidth":2.3,"interpolate":"monotone"},
    "encoding":{"x":{"field":"ms","type":"quantitative"},"y":{"field":"uv","type":"quantitative"},"strokeDash":{"field":"c","type":"nominal","scale":{"domain":["Hits","CRs"],"range":[[1,0],[5,3.5]]},"legend":null}}},
   {"data":{"name":"notes"},"transform":[{"filter":"datum.note=='a)'"}],"mark":{"type":"text","font":"Liberation Sans","fontWeight":"bold","fontSize":26,"align":"left","baseline":"alphabetic","color":"black"},"encoding":{"x":{"datum":-252.6,"type":"quantitative"},"y":{"datum":5.94,"type":"quantitative"},"text":{"field":"note"}}},
   {"data":{"name":"notes"},"transform":[{"filter":"datum.note=='FZ'"}],"mark":{"type":"point","shape":"circle","size":420,"filled":true,"fill":"white","stroke":"black","strokeWidth":1.2,"opacity":1},"encoding":{"x":{"datum":-1,"type":"quantitative"},"y":{"datum":3.78,"type":"quantitative"}}},
   {"data":{"name":"notes"},"transform":[{"filter":"datum.note=='FZ'"}],"mark":{"type":"text","fontSize":12,"align":"center","baseline":"middle","color":"black"},"encoding":{"x":{"datum":-1,"type":"quantitative"},"y":{"datum":3.78,"type":"quantitative"},"text":{"field":"note"}}}
  ]},
 {"width":323,"height":118,
  "layer":[
   {"data":{"name":"boxes"},"transform":[{"filter":"datum.r=='a'"}],"mark":{"type":"rect","fill":"#e4e4e4"},
    "encoding":{"x":{"field":"ms","type":"quantitative","scale":{"domain":[-284.3,1046.6],"nice":false,"zero":false},"axis":null},"x2":{"field":"ms2"},"y":{"field":"uv","type":"quantitative","scale":{"domain":[-5.16,9.23],"nice":false,"zero":false},"axis":null},"y2":{"field":"uv2"}}},
   {"data":{"name":"guides"},"transform":[{"filter":"datum.r=='a' && datum.g=='G'"}],"mark":{"type":"rule","color":"black","strokeWidth":1.6},
    "encoding":{"x":{"field":"ms","type":"quantitative"},"x2":{"field":"ms2"},"y":{"field":"uv","type":"quantitative"},"y2":{"field":"uv2"}}},
   {"data":{"name":"waves"},"transform":[{"filter":"datum.r=='a' && datum.g=='G'"}],"mark":{"type":"line","color":"#999999","strokeWidth":2.3,"interpolate":"monotone"},
    "encoding":{"x":{"field":"ms","type":"quantitative"},"y":{"field":"uv","type":"quantitative"},"strokeDash":{"field":"c","type":"nominal","scale":{"domain":["Hits","CRs"],"range":[[1,0],[5,3.5]]},"legend":null}}}
  ]}
 ],"spacing":0,"bounds":"flush"},
{"hconcat":[
 {"width":280,"height":282,
  "layer":[
   {"data":{"name":"topo"},"transform":[{"filter":"datum.map=='L'"}],"mark":{"type":"line","interpolate":"cardinal-closed","strokeOpacity":0,"strokeWidth":0},
    "encoding":{"x":{"field":"u","type":"quantitative","scale":{"domain":[-187.3,92.7],"nice":false,"zero":false},"axis":null},"y":{"field":"v","type":"quantitative","scale":{"domain":[-131.3,150.7],"nice":false,"zero":false},"axis":null},
     "fill":{"field":"level","type":"ordinal","scale":{"domain":[1,2,3,4,5,6,7,8,9,10],"range":["#ececfa","#fdf0f0","#fde0e0","#fccbcb","#fbb4b4","#f99c9c","#f88383","#f76a6a","#f65252","#f43b3b"]},"legend":null},"detail":{"field":"poly"},"order":{"field":"i"}}},
   {"data":{"name":"electrodes"},"transform":[{"filter":"!datum.ref"}],"mark":{"type":"circle","size":9,"color":"#333333","opacity":1},
    "encoding":{"x":{"field":"u","type":"quantitative"},"y":{"field":"v","type":"quantitative"}}},
   {"data":{"name":"electrodes"},"transform":[{"filter":"datum.ref"}],"mark":{"type":"point","shape":"circle","size":32,"filled":true,"fill":"white","stroke":"black","strokeWidth":1.6,"opacity":1},
    "encoding":{"x":{"field":"u","type":"quantitative"},"y":{"field":"v","type":"quantitative"}}},
   {"data":{"name":"notes"},"transform":[{"filter":"datum.note=='b)'"}],"mark":{"type":"text","font":"Liberation Sans","fontWeight":"bold","fontSize":26,"align":"left","baseline":"alphabetic","color":"black"},"encoding":{"x":{"datum":-179.3,"type":"quantitative"},"y":{"datum":83,"type":"quantitative"},"text":{"field":"note"}}}
  ]},
 {"width":120,"height":282,
  "layer":[
   {"data":{"name":"swatches"},"mark":{"type":"rect"},
    "encoding":{"x":{"datum":7.5,"type":"quantitative","scale":{"domain":[0,12],"nice":false,"zero":false},"axis":null},"x2":{"datum":9.7},
     "y":{"field":"lo","type":"quantitative","scale":{"domain":[-3.43,12.97],"nice":false,"zero":false},"axis":null},"y2":{"field":"hi"},
     "fill":{"field":"level","type":"ordinal","scale":{"domain":[1,2,3,4,5,6,7,8,9,10],"range":["#ececfa","#fdf0f0","#fde0e0","#fccbcb","#fbb4b4","#f99c9c","#f88383","#f76a6a","#f65252","#f43b3b"]},"legend":null}}},
   {"data":{"name":"notes"},"transform":[{"filter":"datum.note=='500-700 ms'"}],"mark":{"type":"rect","fill":"black","cornerRadius":6},
    "encoding":{"x":{"datum":0.1,"type":"quantitative"},"x2":{"datum":11.9},"y":{"datum":8.55,"type":"quantitative"},"y2":{"datum":10.45}}},
   {"data":{"name":"notes"},"transform":[{"filter":"datum.note=='500-700 ms'"}],"mark":{"type":"text","font":"Roboto","fontWeight":"bold","fontSize":16,"color":"white","align":"center","baseline":"alphabetic"},
    "encoding":{"x":{"datum":6,"type":"quantitative"},"y":{"datum":9.1,"type":"quantitative"},"text":{"field":"note"}}},
   {"data":{"name":"notes"},"transform":[{"filter":"datum.note=='+5 µV'"}],"mark":{"type":"text","fontSize":16,"color":"black","align":"right","baseline":"alphabetic"},
    "encoding":{"x":{"datum":6.2,"type":"quantitative"},"y":{"datum":4.42,"type":"quantitative"},"text":{"field":"note"}}},
   {"data":{"name":"notes"},"transform":[{"filter":"datum.note=='0'"}],"mark":{"type":"text","fontSize":16,"color":"black","align":"center","baseline":"alphabetic"},
    "encoding":{"x":{"datum":4.3,"type":"quantitative"},"y":{"datum":0.17,"type":"quantitative"},"text":{"field":"note"}}}
  ]},
 {"width":245,"height":282,
  "layer":[
   {"data":{"name":"topo"},"transform":[{"filter":"datum.map=='R'"}],"mark":{"type":"line","interpolate":"cardinal-closed","strokeOpacity":0,"strokeWidth":0},
    "encoding":{"x":{"field":"u","type":"quantitative","scale":{"domain":[-100.7,144.3],"nice":false,"zero":false},"axis":null},"y":{"field":"v","type":"quantitative","scale":{"domain":[-131.3,150.7],"nice":false,"zero":false},"axis":null},
     "fill":{"field":"level","type":"ordinal","scale":{"domain":[1,2,3,4,5,6,7,8,9,10],"range":["#ececfa","#fdf0f0","#fde0e0","#fccbcb","#fbb4b4","#f99c9c","#f88383","#f76a6a","#f65252","#f43b3b"]},"legend":null},"detail":{"field":"poly"},"order":{"field":"i"}}},
   {"data":{"name":"electrodes"},"transform":[{"filter":"!datum.ref"}],"mark":{"type":"circle","size":9,"color":"#333333","opacity":1},
    "encoding":{"x":{"field":"u","type":"quantitative"},"y":{"field":"v","type":"quantitative"}}},
   {"data":{"name":"electrodes"},"transform":[{"filter":"datum.ref"}],"mark":{"type":"point","shape":"circle","size":32,"filled":true,"fill":"white","stroke":"black","strokeWidth":1.6,"opacity":1},
    "encoding":{"x":{"field":"u","type":"quantitative"},"y":{"field":"v","type":"quantitative"}}}
  ]}
 ],"spacing":0,"bounds":"flush"},
{"hconcat":[
 {"width":322,"height":144,
  "layer":[
   {"data":{"name":"boxes"},"transform":[{"filter":"datum.r=='c'"}],"mark":{"type":"rect","fill":"#e4e4e4"},
    "encoding":{"x":{"field":"ms","type":"quantitative","scale":{"domain":[-285.5,1041.2],"nice":false,"zero":false},"axis":null},"x2":{"field":"ms2"},"y":{"field":"uv","type":"quantitative","scale":{"domain":[-5.24,12.32],"nice":false,"zero":false},"axis":null},"y2":{"field":"uv2"}}},
   {"data":{"name":"guides"},"transform":[{"filter":"datum.r=='c' && datum.g=='A'"}],"mark":{"type":"rule","color":"black","strokeWidth":1.6},
    "encoding":{"x":{"field":"ms","type":"quantitative"},"x2":{"field":"ms2"},"y":{"field":"uv","type":"quantitative"},"y2":{"field":"uv2"}}},
   {"data":{"name":"waves"},"transform":[{"filter":"datum.r=='c' && datum.g=='A'"}],"mark":{"type":"line","color":"black","strokeWidth":2.3,"interpolate":"monotone"},
    "encoding":{"x":{"field":"ms","type":"quantitative"},"y":{"field":"uv","type":"quantitative"},"strokeDash":{"field":"c","type":"nominal","scale":{"domain":["Hits","CRs"],"range":[[1,0],[5,3.5]]},"legend":null}}},
   {"data":{"name":"ticks"},"mark":{"type":"text","fontSize":16,"color":"black","align":"center","baseline":"alphabetic"},
    "encoding":{"x":{"field":"ms","type":"quantitative"},"y":{"datum":-4.1,"type":"quantitative"},"text":{"field":"ms","type":"quantitative"}}},
   {"data":{"name":"notes"},"transform":[{"filter":"datum.note=='ms'"}],"mark":{"type":"text","fontSize":12,"color":"black","align":"left","baseline":"alphabetic"},"encoding":{"x":{"datum":778,"type":"quantitative"},"y":{"datum":-4.1,"type":"quantitative"},"text":{"field":"note"}}},
   {"data":{"name":"notes"},"transform":[{"filter":"datum.note=='c)'"}],"mark":{"type":"text","font":"Liberation Sans","fontWeight":"bold","fontSize":26,"align":"left","baseline":"alphabetic","color":"black"},"encoding":{"x":{"datum":-252.6,"type":"quantitative"},"y":{"datum":8.78,"type":"quantitative"},"text":{"field":"note"}}},
   {"data":{"name":"notes"},"transform":[{"filter":"datum.note=='P3'"}],"mark":{"type":"point","shape":"circle","size":420,"filled":true,"fill":"white","stroke":"black","strokeWidth":1.2,"opacity":1},"encoding":{"x":{"datum":0,"type":"quantitative"},"y":{"datum":3.41,"type":"quantitative"}}},
   {"data":{"name":"notes"},"transform":[{"filter":"datum.note=='P3'"}],"mark":{"type":"text","fontSize":12,"align":"center","baseline":"middle","color":"black"},"encoding":{"x":{"datum":0,"type":"quantitative"},"y":{"datum":3.41,"type":"quantitative"},"text":{"field":"note"}}}
  ]},
 {"width":323,"height":144,
  "layer":[
   {"data":{"name":"boxes"},"transform":[{"filter":"datum.r=='c'"}],"mark":{"type":"rect","fill":"#e4e4e4"},
    "encoding":{"x":{"field":"ms","type":"quantitative","scale":{"domain":[-284.3,1046.6],"nice":false,"zero":false},"axis":null},"x2":{"field":"ms2"},"y":{"field":"uv","type":"quantitative","scale":{"domain":[-5.24,12.32],"nice":false,"zero":false},"axis":null},"y2":{"field":"uv2"}}},
   {"data":{"name":"guides"},"transform":[{"filter":"datum.r=='c' && datum.g=='G'"}],"mark":{"type":"rule","color":"black","strokeWidth":1.6},
    "encoding":{"x":{"field":"ms","type":"quantitative"},"x2":{"field":"ms2"},"y":{"field":"uv","type":"quantitative"},"y2":{"field":"uv2"}}},
   {"data":{"name":"waves"},"transform":[{"filter":"datum.r=='c' && datum.g=='G'"}],"mark":{"type":"line","color":"#999999","strokeWidth":2.3,"interpolate":"monotone"},
    "encoding":{"x":{"field":"ms","type":"quantitative"},"y":{"field":"uv","type":"quantitative"},"strokeDash":{"field":"c","type":"nominal","scale":{"domain":["Hits","CRs"],"range":[[1,0],[5,3.5]]},"legend":null}}},
   {"data":{"name":"notes"},"transform":[{"filter":"datum.note=='+5 µV'"}],"mark":{"type":"text","fontSize":16,"color":"black","align":"right","baseline":"alphabetic"},"encoding":{"x":{"datum":-66,"type":"quantitative"},"y":{"datum":4.3,"type":"quantitative"},"text":{"field":"note"}}},
   {"data":{"name":"notes"},"transform":[{"filter":"datum.note=='0'"}],"mark":{"type":"text","fontSize":16,"color":"black","align":"right","baseline":"alphabetic"},"encoding":{"x":{"datum":-148,"type":"quantitative"},"y":{"datum":-0.77,"type":"quantitative"},"text":{"field":"note"}}}
  ]}
 ],"spacing":0,"bounds":"flush"},
{"width":645,"height":33,"data":{"name":"notes"},
 "layer":[
  {"transform":[{"filter":"datum.note=='Hits'"}],"mark":{"type":"rule","color":"black","strokeWidth":2},
   "encoding":{"x":{"datum":187,"type":"quantitative","scale":{"domain":[0,645],"nice":false,"zero":false},"axis":null},"x2":{"datum":247},"y":{"datum":21,"type":"quantitative","scale":{"domain":[0,33],"reverse":true,"nice":false,"zero":false},"axis":null}}},
  {"transform":[{"filter":"datum.note=='CRs'"}],"mark":{"type":"rule","color":"black","strokeWidth":2,"strokeDash":[5,3.5]},
   "encoding":{"x":{"datum":337,"type":"quantitative"},"x2":{"datum":397},"y":{"datum":21,"type":"quantitative"}}},
  {"transform":[{"filter":"datum.note=='Hits'"}],"mark":{"type":"text","fontSize":20,"color":"black","align":"left","baseline":"alphabetic"},
   "encoding":{"x":{"datum":256,"type":"quantitative"},"y":{"datum":27.5,"type":"quantitative"},"text":{"field":"note"}}},
  {"transform":[{"filter":"datum.note=='CRs'"}],"mark":{"type":"text","fontSize":20,"color":"black","align":"left","baseline":"alphabetic"},
   "encoding":{"x":{"datum":402,"type":"quantitative"},"y":{"datum":27.5,"type":"quantitative"},"text":{"field":"note"}}}
 ]}
]
}
